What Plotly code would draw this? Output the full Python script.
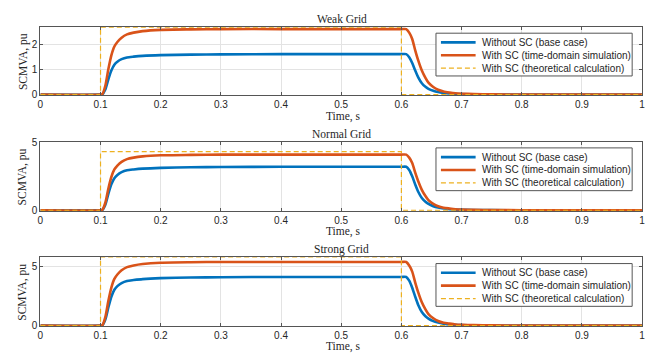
import plotly.graph_objects as go

# ---------------- data ----------------
time_s = [0, 0.1, 0.103, 0.108, 0.113, 0.118, 0.123, 0.128, 0.135, 0.144, 0.155, 0.17,
          0.2, 0.25, 0.3, 0.4, 0.5, 0.6, 0.608, 0.613, 0.618, 0.623, 0.628, 0.634,
          0.64, 0.645, 0.653, 0.661, 0.67, 0.68, 0.69, 0.7, 0.72, 0.75, 0.8, 0.9, 1.0]

grid_names = ["Weak Grid", "Normal Grid", "Strong Grid"]

without_sc = {
    "Weak Grid": [0, 0, 0.01, 0.2, 0.6, 0.95, 1.18, 1.3, 1.4, 1.47, 1.5, 1.53, 1.56, 1.58, 1.59,
                  1.6, 1.6, 1.6, 1.6, 1.48, 1.25, 0.95, 0.68, 0.45, 0.31, 0.23, 0.15, 0.1, 0.065,
                  0.04, 0.025, 0.018, 0.01, 0.005, 0.002, 0, 0],
    "Normal Grid": [0, 0, 0.02, 0.4, 1.2, 1.9, 2.35, 2.59, 2.79, 2.93, 2.99, 3.05, 3.11, 3.15, 3.17,
                    3.19, 3.19, 3.19, 3.19, 2.95, 2.49, 1.89, 1.36, 0.9, 0.62, 0.46, 0.3, 0.2, 0.13,
                    0.08, 0.05, 0.035, 0.02, 0.01, 0.003, 0, 0],
    "Strong Grid": [0, 0, 0.025, 0.51, 1.53, 2.43, 3.02, 3.32, 3.58, 3.76, 3.83, 3.91, 3.99, 4.04,
                    4.07, 4.09, 4.09, 4.09, 4.09, 3.78, 3.19, 2.43, 1.74, 1.15, 0.79, 0.59, 0.38,
                    0.26, 0.17, 0.1, 0.065, 0.045, 0.025, 0.012, 0.004, 0, 0],
}

with_sc_sim = {
    "Weak Grid": [0, 0, 0.02, 0.35, 1.0, 1.55, 1.9, 2.08, 2.25, 2.38, 2.45, 2.51, 2.56, 2.58, 2.59,
                  2.59, 2.59, 2.59, 2.59, 2.45, 2.2, 1.75, 1.35, 0.95, 0.66, 0.47, 0.3, 0.19, 0.12,
                  0.08, 0.05, 0.035, 0.02, 0.01, 0.004, 0.001, 0],
    "Normal Grid": [0, 0, 0.03, 0.55, 1.58, 2.44, 2.99, 3.28, 3.55, 3.75, 3.86, 3.95, 4.03, 4.06,
                    4.08, 4.08, 4.08, 4.08, 4.08, 3.86, 3.46, 2.76, 2.13, 1.5, 1.04, 0.74, 0.47,
                    0.3, 0.19, 0.13, 0.08, 0.055, 0.03, 0.016, 0.006, 0.002, 0],
    "Strong Grid": [0, 0, 0.04, 0.72, 2.07, 3.2, 3.93, 4.3, 4.65, 4.92, 5.06, 5.18, 5.29, 5.33,
                    5.35, 5.35, 5.35, 5.35, 5.35, 5.06, 4.54, 3.62, 2.79, 1.96, 1.36, 0.97, 0.62,
                    0.39, 0.25, 0.17, 0.1, 0.072, 0.04, 0.02, 0.008, 0.002, 0],
}

theory_time = [0, 0.1, 0.1, 0.6, 0.6, 1.0]
theory_level = {"Weak Grid": 2.67, "Normal Grid": 4.3, "Strong Grid": 5.73}

y_upper = {"Weak Grid": 2.67, "Normal Grid": 5.0, "Strong Grid": 5.73}
y_ticks = {"Weak Grid": [0, 1, 2], "Normal Grid": [0, 5], "Strong Grid": [0, 5]}
x_ticks = [0, 0.1, 0.2, 0.3, 0.4, 0.5, 0.6, 0.7, 0.8, 0.9, 1.0]
x_tick_labels = ["0", "0.1", "0.2", "0.3", "0.4", "0.5", "0.6", "0.7", "0.8", "0.9", "1"]

series_names = ["Without SC (base case)", "With SC (time-domain simulation)",
                "With SC (theoretical calculation)"]

# ---------------- layout geometry ----------------
W, H = 652, 358
x_dom = [37.7 / W, 645 / W]
y_px = [(22.7, 93), (141, 212), (259.7, 330.7)]
title_px = [14, 133, 252]
xlabel_px = [115, 233, 351.5]
legend_top_px = [29, 147, 266]
LEG_L, LEG_R, LEG_H = 437, 635, 44
LEG_ROWS = [9.5, 22.7, 36]
LEG_LINE = (442, 477)
LEG_TEXT_X = 481

BLUE = "#0072BD"
ORANGE = "#D95319"
YELLOW = "#EDB120"
SANS = "Liberation Sans, Arial, sans-serif"
SERIF = "Liberation Serif, Times New Roman, serif"
DASH = "5px,3px"

fig = go.Figure()
annotations = []
shapes = []
layout = {}


def py(px):
    return 1 - px / H


for i, g in enumerate(grid_names):
    sfx = "" if i == 0 else str(i + 1)
    xa, ya = "x" + sfx, "y" + sfx
    theory_vals = [0, 0, theory_level[g], theory_level[g], 0, 0]
    fig.add_trace(go.Scatter(x=time_s, y=without_sc[g], mode="lines", name=series_names[0],
                             line=dict(color=BLUE, width=2.6, shape="spline", smoothing=0.6),
                             xaxis=xa, yaxis=ya, showlegend=False))
    fig.add_trace(go.Scatter(x=time_s, y=with_sc_sim[g], mode="lines", name=series_names[1],
                             line=dict(color=ORANGE, width=2.6, shape="spline", smoothing=0.6),
                             xaxis=xa, yaxis=ya, showlegend=False))
    fig.add_trace(go.Scatter(x=theory_time, y=theory_vals, mode="lines", name=series_names[2],
                             line=dict(color=YELLOW, width=1.2, dash=DASH),
                             xaxis=xa, yaxis=ya, showlegend=False))

    top, bot = y_px[i]
    ydom = [py(bot), py(top)]
    axis_common = dict(showline=True, linecolor="#555555", linewidth=1, mirror="ticks",
                       ticks="inside", ticklen=3, tickcolor="#555555",
                       showgrid=True, gridcolor="#e3e3e3", gridwidth=1, zeroline=False,
                       tickfont=dict(family=SANS, size=10, color="#262626"))
    layout["xaxis" + sfx] = dict(axis_common, domain=x_dom, range=[0, 1],
                                 tickvals=x_ticks, ticktext=x_tick_labels, anchor=ya)
    layout["yaxis" + sfx] = dict(axis_common, domain=ydom,
                                 range=[-0.012 * y_upper[g], y_upper[g]],
                                 tickvals=y_ticks[g], anchor=xa)

    # legend box (drawn in paper space)
    lt = legend_top_px[i]
    shapes.append(dict(type="rect", xref="paper", yref="paper",
                       x0=LEG_L / W, x1=LEG_R / W, y0=py(lt + LEG_H), y1=py(lt),
                       fillcolor="white", line=dict(color="#555555", width=1), layer="above"))
    styles = [dict(color=BLUE, width=2.6), dict(color=ORANGE, width=2.6),
              dict(color=YELLOW, width=1.2, dash=DASH)]
    for k in range(3):
        yy = py(lt + LEG_ROWS[k])
        shapes.append(dict(type="line", xref="paper", yref="paper",
                           x0=LEG_LINE[0] / W, x1=LEG_LINE[1] / W, y0=yy, y1=yy,
                           line=styles[k], layer="above"))
        annotations.append(dict(text=series_names[k], x=LEG_TEXT_X / W, y=yy, xref="paper",
                                yref="paper", showarrow=False, xanchor="left",
                                yanchor="middle",
                                font=dict(family=SANS, size=10, color="#262626")))

    annotations.append(dict(text=g, x=0.524, y=py(title_px[i]), xref="paper", yref="paper",
                            showarrow=False, font=dict(family=SERIF, size=11.5, color="#262626"),
                            xanchor="center", yanchor="middle"))
    annotations.append(dict(text="Time, s", x=0.527, y=py(xlabel_px[i]), xref="paper",
                            yref="paper", showarrow=False,
                            font=dict(family=SERIF, size=11.5, color="#262626"),
                            xanchor="center", yanchor="middle"))
    annotations.append(dict(text="SCMVA, pu", x=20 / W, y=(ydom[0] + ydom[1]) / 2, xref="paper",
                            yref="paper", showarrow=False, textangle=-90,
                            font=dict(family=SERIF, size=11.5, color="#262626"),
                            xanchor="center", yanchor="middle"))

fig.update_layout(width=W, height=H, autosize=False, margin=dict(l=0, r=0, t=0, b=0),
                  paper_bgcolor="white", plot_bgcolor="white", showlegend=False,
                  hovermode=False, annotations=annotations, shapes=shapes, **layout)

fig.write_html("out.html",
               config={"displayModeBar": False, "staticPlot": True},
               post_script="document.body.style.margin='0px';document.body.style.overflow='hidden';")
